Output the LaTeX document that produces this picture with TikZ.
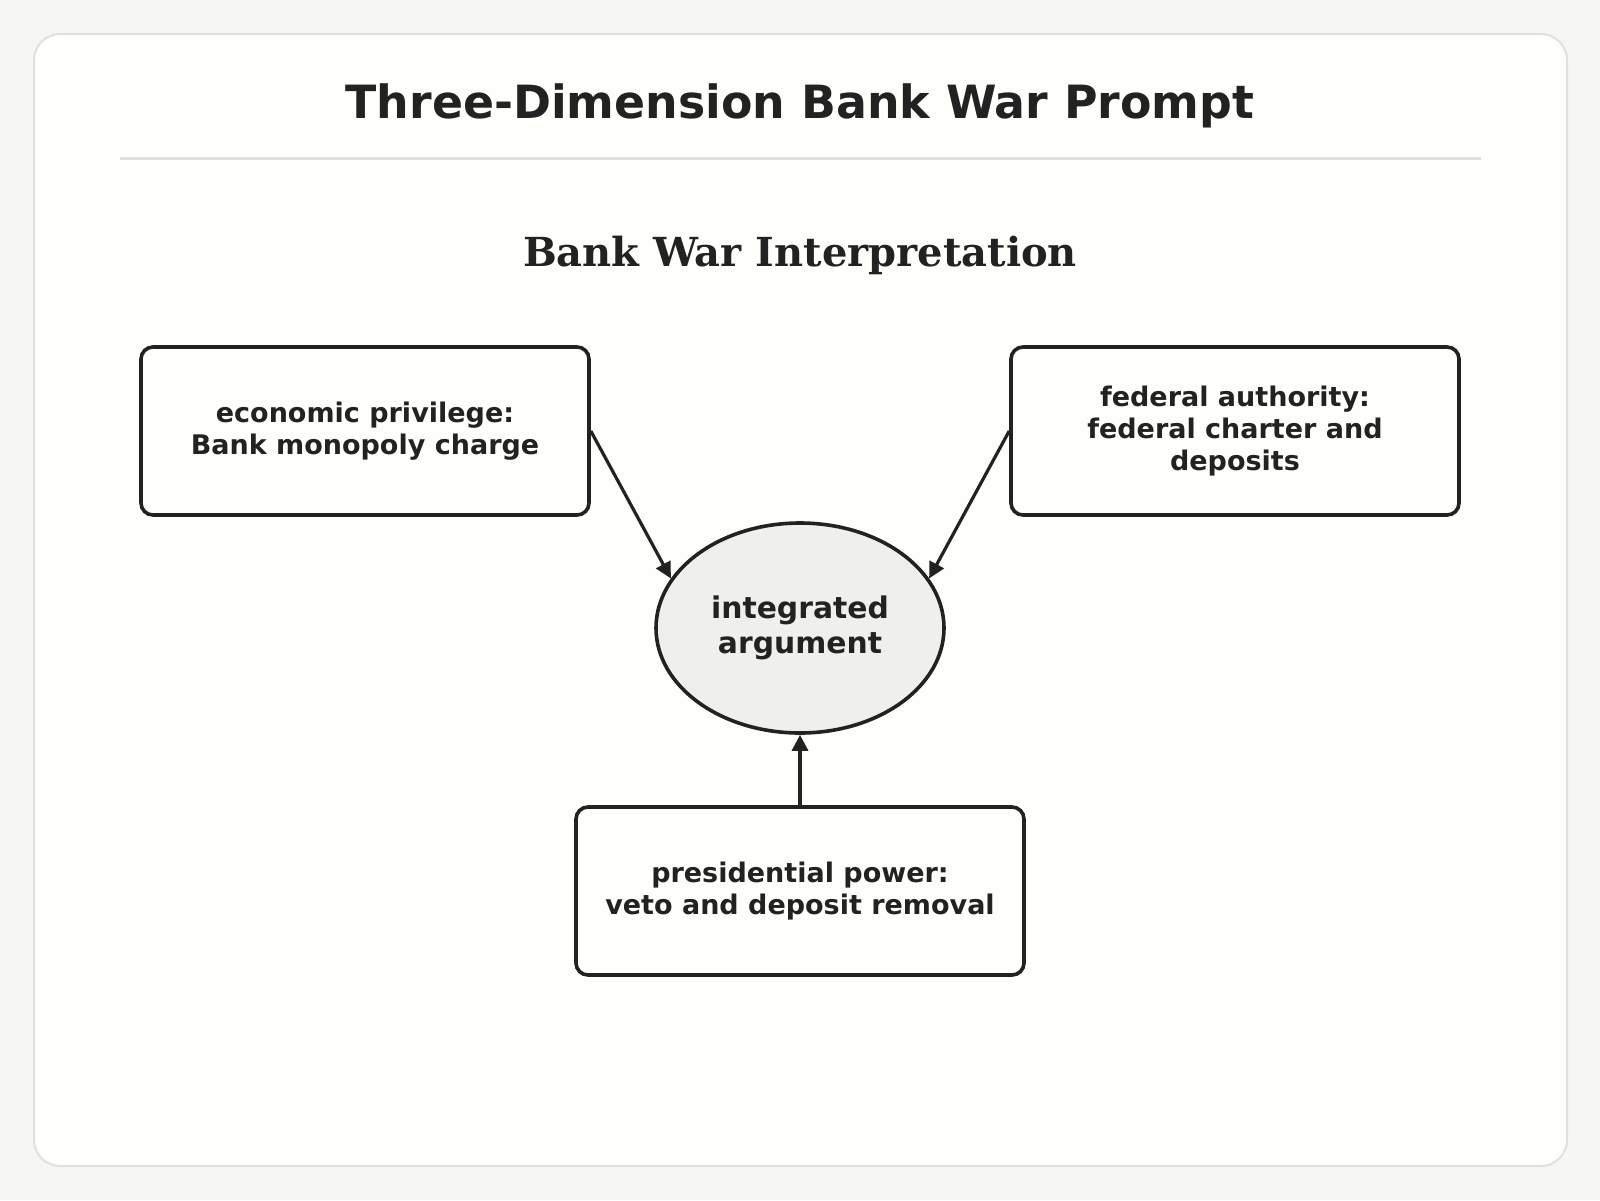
\documentclass[tikz,border=0pt]{standalone}
\usepackage{fontspec}
\setmainfont{DejaVu Sans}
\newfontfamily\headserif{DejaVu Serif}
\usepackage{tikz}
\usetikzlibrary{arrows.meta, shapes, positioning}
\usepackage{xcolor}
\definecolor{ink}{HTML}{222222}
\definecolor{pagebg}{HTML}{F6F7F4}
\definecolor{cardfill}{HTML}{FEFEFA}
\definecolor{cardline}{HTML}{E0E0DC}
\definecolor{hubfill}{HTML}{EFEFEB}

\begin{document}
\begin{tikzpicture}[x=0.5pt, y=-0.5pt,
  dimbox/.style={draw=ink, line width=1.8pt, rounded corners=6pt, fill=cardfill,
    minimum width=224pt, minimum height=84pt, align=center, text=ink,
    font=\bfseries\fontsize{13.5}{15.8}\selectfont},
  hub/.style={ellipse, draw=ink, line width=1.8pt, fill=hubfill, inner sep=0pt,
    minimum width=144pt, minimum height=105pt, align=center, text=ink,
    font=\bfseries\fontsize{14.9}{17.5}\selectfont},
  link/.style={draw=ink, line width=1.6pt, -{Triangle[length=8pt, width=8pt]}}]

  % page and card
  \fill[pagebg] (0,0) rectangle (1600,1200);
  \useasboundingbox (0,0) rectangle (1600,1200);
  \draw[cardline, line width=1pt, fill=cardfill, rounded corners=13pt]
    (34,34) rectangle (1567,1166);

  % headings
  \node[anchor=base, text=ink, font=\bfseries\fontsize{22.9}{27}\selectfont]
    (title) at (800,118) {Three-Dimension Bank War Prompt};
  \draw[cardline, line width=1.5pt] (120,158) -- (1481,158);
  \node[anchor=base, text=ink, font=\headserif\bfseries\fontsize{20}{24}\selectfont]
    (subtitle) at (800,266) {Bank War Interpretation};

  % the three dimensions and the hub
  \node[dimbox] (econ) at (365,431) {economic privilege:\\Bank monopoly charge};
  \node[dimbox] (fed) at (1235,431) {federal authority:\\federal charter and\\deposits};
  \node[dimbox] (pres) at (800,891) {presidential power:\\veto and deposit removal};
  \node[hub] (core) at (800,628) {integrated\\argument};

  % connectors
  \draw[link] (econ.east) -- (core.159);
  \draw[link] (fed.west) -- (core.21);
  \draw[link] (pres.north) -- (core.south);
\end{tikzpicture}
\end{document}
